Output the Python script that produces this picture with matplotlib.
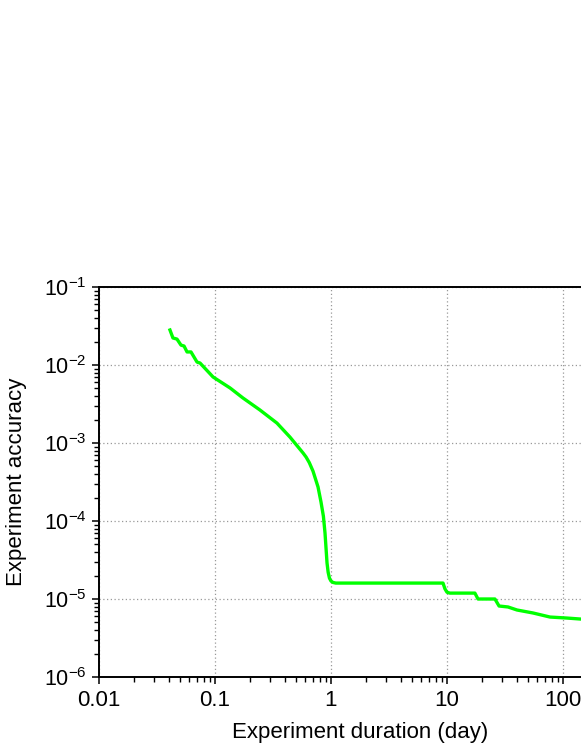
import matplotlib
matplotlib.use("Agg")
import matplotlib.pyplot as plt
from matplotlib.ticker import LogLocator, NullFormatter

plt.rcParams['font.family'] = ['Liberation Sans', 'DejaVu Sans']
plt.rcParams['mathtext.default'] = 'regular'

duration = [0.0409, 0.0434, 0.0470, 0.0509, 0.0541, 0.0574, 0.0621, 0.0700, 0.0743,
            0.0962, 0.135, 0.174, 0.244, 0.342, 0.443, 0.574, 0.610, 0.650, 0.700, 0.773,
            0.820, 0.860, 0.888, 0.905, 0.924, 0.945, 0.970, 1.00, 1.04, 1.10, 9.24, 9.6, 10.0, 10.6,
            17.4, 18.5, 25.9, 28.1, 33.6, 40.1, 55.1, 77.3, 108, 140]
accuracy = [0.0281, 0.0222, 0.0215, 0.0180, 0.0175, 0.0147, 0.0147, 0.0109, 0.0106,
            0.00702, 0.00507, 0.00378, 0.00265, 0.00180, 0.00119, 7.45e-4, 6.6e-4, 5.6e-4, 4.35e-4, 2.73e-4,
            1.75e-4, 1.15e-4, 7.0e-5, 4.6e-5, 2.9e-5, 2.2e-5, 1.85e-5, 1.70e-5, 1.63e-5, 1.60e-5,
            1.60e-5, 1.35e-5, 1.22e-5, 1.19e-5, 1.19e-5, 1.0e-5,
            1.0e-5, 8.13e-6, 7.9e-6, 7.23e-6, 6.62e-6, 5.87e-6, 5.70e-6, 5.54e-6]

x_ticks = [0.01, 0.1, 1, 10, 100]
x_ticklabels = ["0.01", "0.1", "1", "10", "100"]

W, H = 581, 752
fig = plt.figure(figsize=(W / 100, H / 100), dpi=100)
left, right, top, bottom = 99, 621, 287, 677
ax = fig.add_axes([left / W, (H - bottom) / H, (right - left) / W, (bottom - top) / H])

ax.plot(duration, accuracy, color='#00ff00', lw=2.4, solid_joinstyle='round')
ax.set_xscale('log')
ax.set_yscale('log')
ax.set_xlim(0.01, 10 ** 2.5)
ax.set_ylim(1e-6, 1e-1)

ax.set_xticks(x_ticks)
ax.set_xticklabels(x_ticklabels)
ax.xaxis.set_minor_locator(LogLocator(base=10, subs=range(2, 10), numticks=20))
ax.xaxis.set_minor_formatter(NullFormatter())
ax.yaxis.set_major_locator(LogLocator(base=10, numticks=10))
ax.yaxis.set_minor_locator(LogLocator(base=10, subs=range(2, 10), numticks=20))
ax.yaxis.set_minor_formatter(NullFormatter())

ax.tick_params(which='major', direction='out', length=5, width=1.1, pad=4,
               top=False, right=False)
ax.tick_params(axis='x', which='major', labelsize=16)
ax.tick_params(axis='y', which='major', labelsize=15.5)
ax.tick_params(which='minor', direction='out', length=3.5, width=1.0, top=False, right=False)

for s in ax.spines.values():
    s.set_linewidth(1.4)

ax.grid(True, which='major', linestyle=(0, (1, 2)), color='#999999', linewidth=0.9)

ax.set_xlabel('Experiment duration (day)', fontsize=16, labelpad=8)
ax.set_ylabel('Experiment accuracy', fontsize=16, labelpad=12)

fig.savefig('out.png', dpi=100)
